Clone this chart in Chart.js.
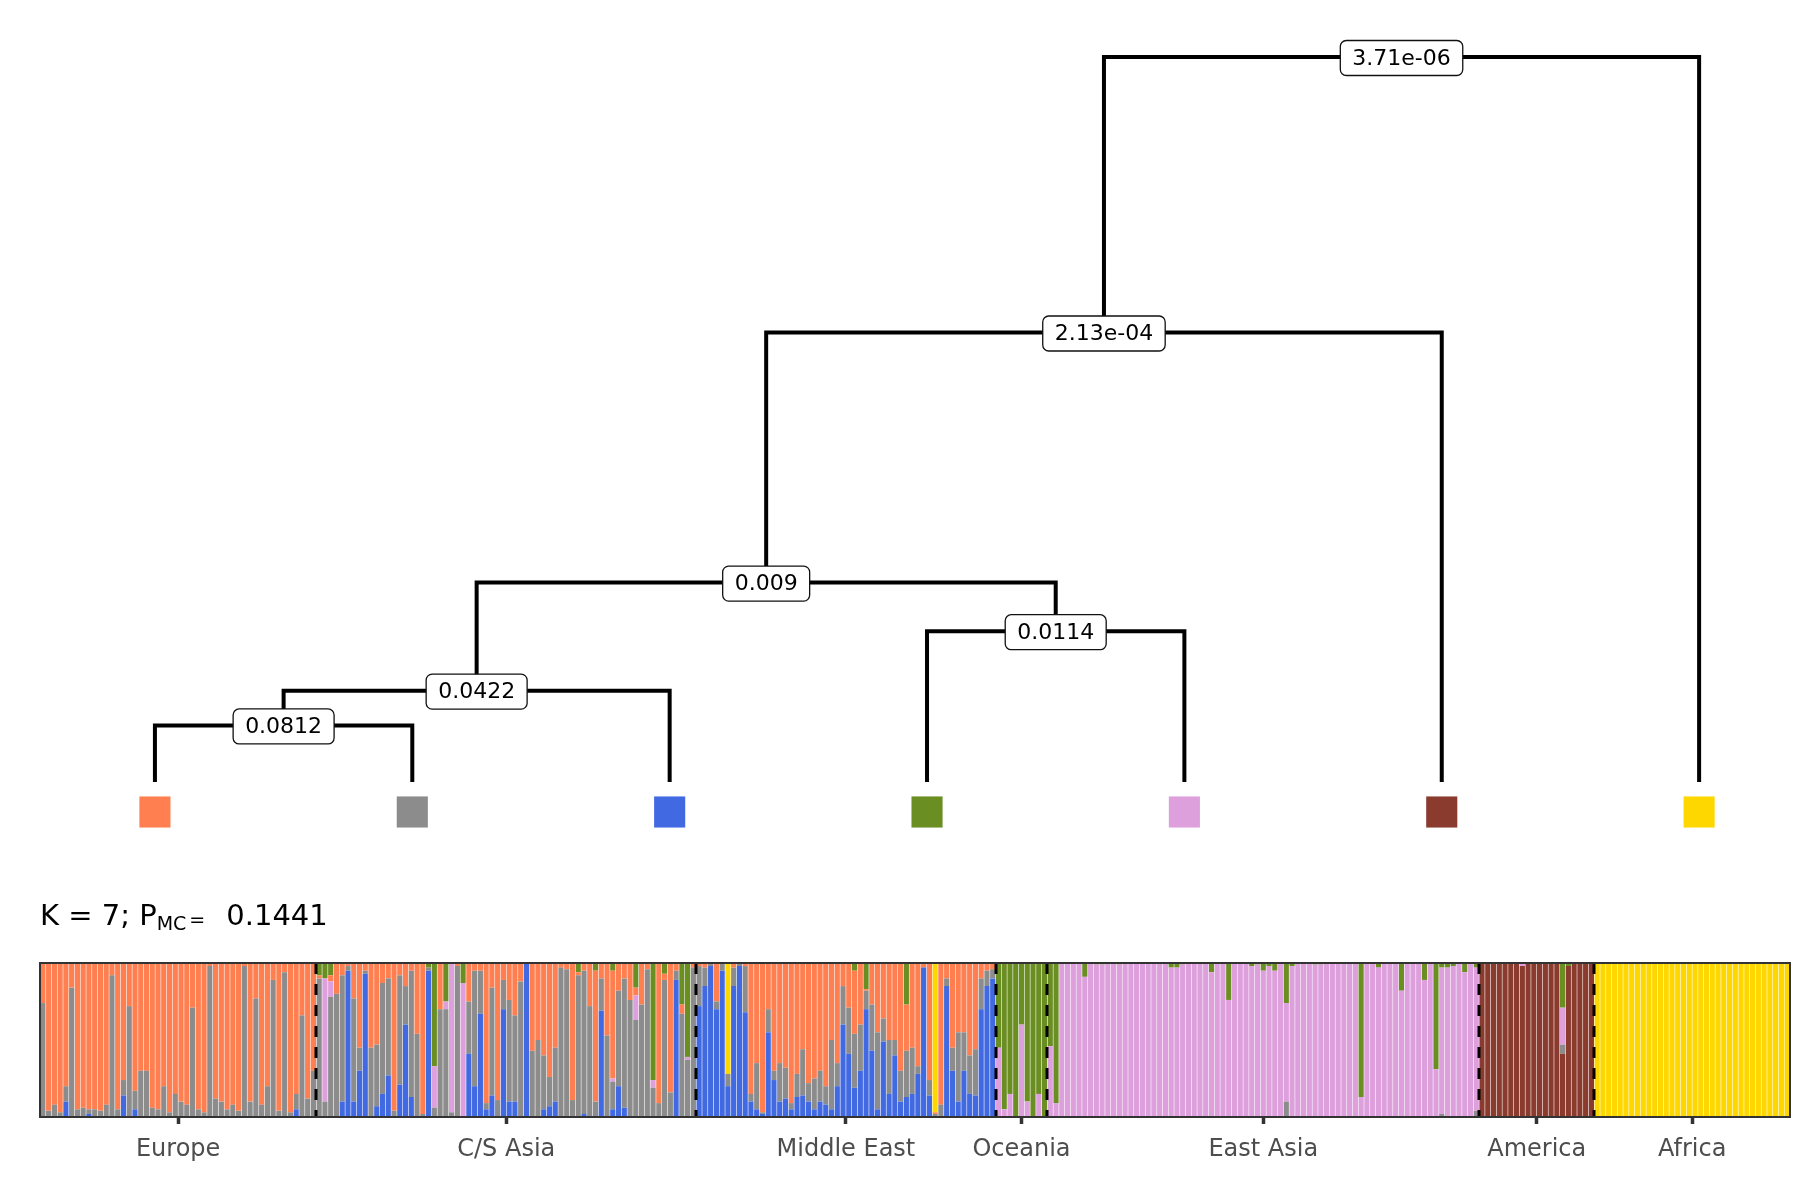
<!DOCTYPE html>
<html>
<head>
<meta charset="utf-8">
<script src="https://cdn.jsdelivr.net/npm/chart.js@4.4.1/dist/chart.umd.min.js"></script>
<style>
  body { margin: 0; background: #fff; }
  #wrap { position: relative; width: 1800px; height: 1200px; }
  canvas { position: absolute; left: 0; }
  #tree { top: 0; }
  #admix { top: 870px; }
</style>
</head>
<body>
<div id="wrap">
  <canvas id="tree" width="1800" height="880"></canvas>
  <canvas id="admix" width="1800" height="330"></canvas>
</div>
<script>
// ---- dendrogram of the 7 clusters ----
const leafClusters = ['orange', 'gray', 'blue', 'green', 'pink', 'brown', 'yellow'];
// internal nodes, children ids: 0-6 = leaves, 7+ = internal nodes below
const nodeLeft = [0, 7, 3, 8, 10, 11];
const nodeRight = [1, 2, 4, 9, 5, 6];
const nodeHeights = [0.078, 0.126, 0.208, 0.275, 0.620, 1.0];
const nodeLabels = ['0.0812', '0.0422', '0.0114', '0.009', '2.13e-04', '3.71e-06'];

// ---- admixture proportions (one bar ~ a few individuals) ----
const regionNames = ['Europe', 'C/S Asia', 'Middle East', 'Oceania', 'East Asia', 'America', 'Africa'];
const regionBars = [48, 66, 52, 9, 75, 20, 34];
const regionMain = ['orange', 'gray', 'orange', 'green', 'pink', 'brown', 'yellow'];

const eurGray = [0.74, 0.04, 0.08, 0.03, 0.1, 0.84, 0.05, 0.06, 0.03, 0.05, 0.04, 0.08, 0.92, 0.05, 0.1, 0.72,
  0.12, 0.3, 0.3, 0.06, 0.05, 0.2, 0.03, 0.15, 0.1, 0.08, 0.71, 0.05, 0.03, 0.98, 0.12, 0.1,
  0.05, 0.08, 0.04, 0.98, 0.1, 0.77, 0.08, 0.2, 0.89, 0.04, 0.94, 0.03, 0.1, 0.66, 0.12, 0.3];
const eurBlue = [0, 0, 0, 0, 0.1, 0, 0, 0, 0.02, 0, 0, 0, 0, 0, 0.14, 0, 0.05, 0, 0, 0, 0, 0, 0, 0,
  0, 0, 0, 0, 0, 0, 0, 0, 0, 0, 0, 0, 0, 0, 0, 0, 0, 0, 0, 0, 0.05, 0, 0, 0];

const csaBlue = [0, 0, 0, 0, 0.1, 0.95, 0.1, 0.3, 0.93, 0, 0.07, 0.15, 0.27, 0, 0.21, 0.6, 0.13, 0, 0, 0.95,
  0, 0, 0, 0, 0, 0, 0.41, 0.2, 0.67, 0.05, 0.14, 0, 0.7, 0.1, 0.1, 0, 1, 0, 0, 0.05,
  0.07, 0.1, 0, 0, 0, 0, 0.02, 0, 0, 0.69, 0, 0.05, 0.2, 0.06, 0, 0, 0, 0, 0, 0,
  0, 0, 0.89, 0, 0, 0];
const csaPink = [0, 0.8, 0.1, 0, 0, 0, 0, 0, 0, 0, 0, 0, 0, 0, 0, 0, 0, 0, 0, 0,
  0.27, 0, 0.05, 0.97, 0, 0.87, 0, 0, 0, 0, 0, 0, 0, 0, 0, 0, 0, 0, 0, 0,
  0, 0, 0, 0, 0, 0, 0, 0, 0, 0, 0, 0.02, 0, 0, 0, 0.16, 0, 0, 0.05, 0,
  0, 0, 0, 0, 0.02, 0];
const csaOrange = [0.02, 0, 0.04, 0.2, 0.08, 0.02, 0.23, 0.55, 0.05, 0.55, 0.53, 0.13, 0.1, 0.96, 0.08, 0.15, 0.05, 0.46, 0.98, 0,
  0, 0.3, 0, 0, 0.02, 0, 0.25, 0.05, 0.05, 0.91, 0.16, 0.89, 0.11, 0.24, 0.34, 0.12, 0, 0.57, 0.5, 0.6,
  0.74, 0.55, 0.03, 0.04, 0.89, 0.02, 0.05, 0.28, 0.85, 0.1, 0.47, 0.7, 0.18, 0.1, 0.24, 0.05, 0.27, 0.04, 0, 0.91,
  0.04, 0.84, 0.05, 0.06, 0, 0.03];
const csaGreen = [0.08, 0.1, 0.08, 0, 0, 0, 0, 0, 0, 0, 0, 0, 0, 0, 0, 0, 0, 0, 0, 0.03,
  0.67, 0, 0.25, 0, 0, 0.13, 0, 0, 0, 0, 0, 0, 0, 0, 0, 0, 0, 0, 0, 0,
  0, 0, 0, 0, 0, 0.06, 0, 0, 0.05, 0, 0, 0.05, 0, 0, 0, 0.16, 0, 0, 0.76, 0,
  0.07, 0, 0, 0.27, 0.61, 0];

const meBlue = [0.72, 0.85, 0.98, 0.7, 0.95, 0.2, 0.85, 0.98, 0.68, 0.1, 0.05, 0.02, 0.55, 0.24, 0.1, 0.12, 0.05, 0.13, 0.14, 0.1,
  0.05, 0.1, 0.08, 0.05, 0.2, 0.6, 0.41, 0.19, 0.3, 0.7, 0.43, 0.05, 0.49, 0.15, 0.4, 0.1, 0.13, 0.15, 0.28, 0.97,
  0.14, 0, 0, 0.85, 0.3, 0.1, 0.3, 0.15, 0.14, 0.7, 0.85, 0.9];
const meGray = [0.26, 0.12, 0.02, 0.05, 0.05, 0.08, 0.12, 0.02, 0.3, 0.05, 0.3, 0.01, 0.15, 0.06, 0.25, 0.2, 0.04, 0.15, 0.3, 0.12,
  0.2, 0.2, 0.12, 0.45, 0.15, 0.25, 0.3, 0.35, 0.3, 0.12, 0.3, 0.5, 0.15, 0.35, 0.1, 0.2, 0.3, 0.3, 0.05, 0,
  0.1, 0.02, 0.08, 0.05, 0.15, 0.45, 0.25, 0.25, 0.3, 0.2, 0.1, 0.06];
const meYellow = [0, 0, 0, 0, 0, 0.72, 0, 0, 0, 0, 0, 0, 0, 0, 0, 0, 0, 0, 0, 0,
  0, 0, 0, 0, 0, 0, 0, 0, 0, 0, 0, 0, 0, 0, 0, 0, 0, 0, 0, 0,
  0, 0.97, 0, 0, 0, 0, 0, 0, 0, 0, 0, 0];
const meGreen = [0, 0, 0, 0, 0, 0, 0, 0, 0, 0, 0, 0, 0, 0, 0, 0, 0, 0, 0, 0,
  0, 0, 0, 0, 0, 0, 0, 0.05, 0, 0.17, 0, 0, 0, 0, 0, 0, 0.27, 0, 0, 0,
  0, 0, 0, 0, 0, 0, 0, 0, 0, 0, 0, 0];

const ocePink = [0.45, 0.05, 0.15, 0, 0.6, 0.1, 0, 0.15, 0];

const eaGreen = [0.54, 0.91, 0, 0, 0, 0, 0.09, 0, 0.01, 0.01, 0, 0, 0.01, 0, 0, 0, 0, 0, 0, 0,
  0, 0.03, 0.03, 0.01, 0, 0, 0, 0, 0.06, 0, 0, 0.24, 0, 0, 0, 0.02, 0.01, 0.05, 0.02, 0.05,
  0, 0.26, 0.02, 0, 0, 0, 0.01, 0.01, 0, 0, 0, 0, 0, 0, 0.87, 0, 0, 0.03, 0, 0,
  0, 0.18, 0, 0, 0, 0.11, 0, 0.69, 0.03, 0.03, 0.02, 0, 0.06, 0, 0.03];
const eaGray = [0, 0, 0, 0, 0, 0, 0, 0, 0, 0, 0, 0, 0, 0, 0, 0, 0, 0, 0, 0,
  0, 0, 0, 0, 0, 0, 0, 0, 0, 0, 0, 0, 0, 0, 0, 0, 0, 0, 0, 0,
  0, 0.1, 0, 0, 0, 0, 0, 0, 0, 0, 0, 0, 0, 0, 0, 0, 0, 0, 0, 0,
  0, 0, 0, 0, 0, 0, 0, 0, 0.02, 0, 0, 0, 0, 0, 0.04];

const amGreen = [0, 0, 0, 0, 0, 0, 0, 0, 0, 0, 0, 0, 0, 0, 0.29, 0.02, 0, 0, 0, 0];
const amPink = [0, 0, 0, 0, 0, 0, 0, 0.02, 0, 0, 0, 0, 0, 0, 0.24, 0, 0, 0, 0, 0];
const amGray = [0, 0, 0, 0, 0, 0, 0, 0, 0, 0, 0, 0, 0, 0, 0.06, 0, 0, 0, 0, 0];

const regionMinor = [
  { gray: eurGray, blue: eurBlue },
  { blue: csaBlue, pink: csaPink, orange: csaOrange, green: csaGreen },
  { blue: meBlue, gray: meGray, yellow: meYellow, green: meGreen },
  { pink: ocePink },
  { green: eaGreen, gray: eaGray },
  { green: amGreen, pink: amPink, gray: amGray },
  {}
];

// ---- styles ----
const clusterColor = {
  orange: '#FF7F50', gray: '#8C8C8C', blue: '#4169E1', green: '#6B8E23',
  pink: '#DDA0DD', brown: '#8B3A2E', yellow: '#FFD700'
};
const stackOrder = ['brown', 'blue', 'gray', 'pink', 'orange', 'green', 'yellow']; // bottom -> top
const FONT = '"DejaVu Sans", "Noto Sans", sans-serif';
const leafMarkerY = -0.0414;

// ---------------- tree chart ----------------
const idX = id => id < 7 ? id + 1 : nodeX[id - 7];
const idH = id => id < 7 ? 0 : nodeHeights[id - 7];
const nodeX = [];
nodeLeft.forEach((l, i) => { nodeX[i] = (idX(l) + idX(nodeRight[i])) / 2; });

const branchSets = nodeLeft.map((l, i) => {
  const r = nodeRight[i];
  return {
    type: 'line',
    data: [
      { x: idX(l), y: idH(l) }, { x: idX(l), y: nodeHeights[i] },
      { x: idX(r), y: nodeHeights[i] }, { x: idX(r), y: idH(r) }
    ],
    borderColor: '#000', borderWidth: 4, pointRadius: 0, tension: 0,
    fill: false, borderJoinStyle: 'miter', borderCapStyle: 'butt'
  };
});

const nodeBoxes = {
  id: 'nodeBoxes',
  afterDatasetsDraw(chart) {
    const { ctx, scales: { x, y } } = chart;
    ctx.save();
    ctx.font = '22px ' + FONT;
    ctx.textAlign = 'center';
    ctx.textBaseline = 'middle';
    nodeLabels.forEach((txt, i) => {
      const px = x.getPixelForValue(nodeX[i]);
      const py = y.getPixelForValue(nodeHeights[i]);
      const w = ctx.measureText(txt).width + 24;
      const h = 35;
      ctx.beginPath();
      ctx.roundRect(px - w / 2, py - h / 2 + 1, w, h, 6);
      ctx.fillStyle = '#fff';
      ctx.fill();
      ctx.lineWidth = 1.3;
      ctx.strokeStyle = '#111';
      ctx.stroke();
      ctx.fillStyle = '#000';
      ctx.fillText(txt, px, py + 2);
    });
    ctx.restore();
  }
};

new Chart(document.getElementById('tree'), {
  type: 'scatter',
  data: {
    datasets: [
      ...branchSets,
      {
        type: 'scatter',
        data: leafClusters.map((c, i) => ({ x: i + 1, y: leafMarkerY })),
        pointStyle: 'rect',
        pointRadius: 22,
        pointBorderWidth: 0,
        pointBackgroundColor: leafClusters.map(c => clusterColor[c])
      }
    ]
  },
  options: {
    responsive: false,
    animation: false,
    layout: { padding: 0, autoPadding: false },
    plugins: { legend: { display: false }, tooltip: { enabled: false } },
    scales: {
      x: { type: 'linear', display: false, min: 0.398, max: 7.392 },
      y: { type: 'linear', display: false, min: -0.1352, max: 1.0786 }
    }
  },
  plugins: [nodeBoxes]
});

// ---------------- admixture bar chart ----------------
const totalBars = regionBars.reduce((a, b) => a + b, 0);
const shares = {};
stackOrder.forEach(c => { shares[c] = []; });
let idx = 0;
regionBars.forEach((n, r) => {
  for (let i = 0; i < n; i++, idx++) {
    const vals = {};
    let rest = 1;
    stackOrder.forEach(c => {
      vals[c] = regionMinor[r][c] ? regionMinor[r][c][i] : 0;
      rest -= vals[c];
    });
    vals[regionMain[r]] = Math.max(0, +rest.toFixed(3));
    stackOrder.forEach(c => shares[c].push({ x: idx, y: vals[c] }));
  }
});

const regionStart = [];
regionBars.reduce((s, n, i) => { regionStart[i] = s; return s + n; }, 0);
const regionCenters = regionBars.map((n, i) => regionStart[i] + (n - 1) / 2);

const panelDecor = {
  id: 'panelDecor',
  afterDatasetsDraw(chart) {
    const { ctx, chartArea: a, scales: { x } } = chart;
    ctx.save();
    // region boundaries
    ctx.strokeStyle = '#000';
    ctx.lineWidth = 3;
    ctx.setLineDash([11, 10]);
    regionStart.slice(1).forEach(s => {
      const px = Math.round(x.getPixelForValue(s - 0.5));
      ctx.beginPath();
      ctx.moveTo(px, a.top);
      ctx.lineTo(px, a.bottom);
      ctx.stroke();
    });
    ctx.setLineDash([]);
    // panel border
    ctx.strokeStyle = '#333';
    ctx.lineWidth = 2;
    ctx.strokeRect(a.left, a.top, a.right - a.left, a.bottom - a.top);
    // title  K = 7; P_MC = 0.1441
    ctx.fillStyle = '#000';
    ctx.textAlign = 'left';
    ctx.textBaseline = 'alphabetic';
    let tx = 40;
    const base = 55;
    ctx.font = '29px ' + FONT;
    ctx.fillText('K = 7; P', tx, base);
    tx += ctx.measureText('K = 7; P').width;
    ctx.font = '19px ' + FONT;
    ctx.fillText('MC', tx, base + 5);
    tx += ctx.measureText('MC').width + 3;
    ctx.fillText('=', tx, base + 1);
    tx += ctx.measureText('=').width + 21;
    ctx.font = '29px ' + FONT;
    ctx.fillText('0.1441', tx, base);
    ctx.restore();
  }
};

new Chart(document.getElementById('admix'), {
  type: 'bar',
  data: {
    datasets: stackOrder.map(c => ({
      label: c,
      data: shares[c],
      backgroundColor: clusterColor[c],
      borderWidth: 0,
      barPercentage: 0.9,
      categoryPercentage: 1.0
    }))
  },
  options: {
    responsive: false,
    animation: false,
    layout: { padding: { left: 40, right: 10, top: 93, bottom: 23 }, autoPadding: false },
    plugins: { legend: { display: false }, tooltip: { enabled: false } },
    scales: {
      x: {
        type: 'linear',
        stacked: true,
        offset: false,
        min: -0.5,
        max: totalBars - 0.5,
        afterBuildTicks: ax => { ax.ticks = regionCenters.map(v => ({ value: v })); },
        afterFit: ax => { ax.height = 60; },
        grid: { offset: false, drawOnChartArea: false, drawTicks: true, tickLength: 7, tickWidth: 3.5, tickColor: '#333' },
        border: { display: false },
        ticks: {
          autoSkip: false,
          maxRotation: 0,
          padding: 11,
          color: '#4D4D4D',
          font: { family: FONT, size: 24 },
          callback: (v, i) => regionNames[i]
        }
      },
      y: { stacked: true, min: 0, max: 1, display: false }
    }
  },
  plugins: [panelDecor]
});
</script>
</body>
</html>
